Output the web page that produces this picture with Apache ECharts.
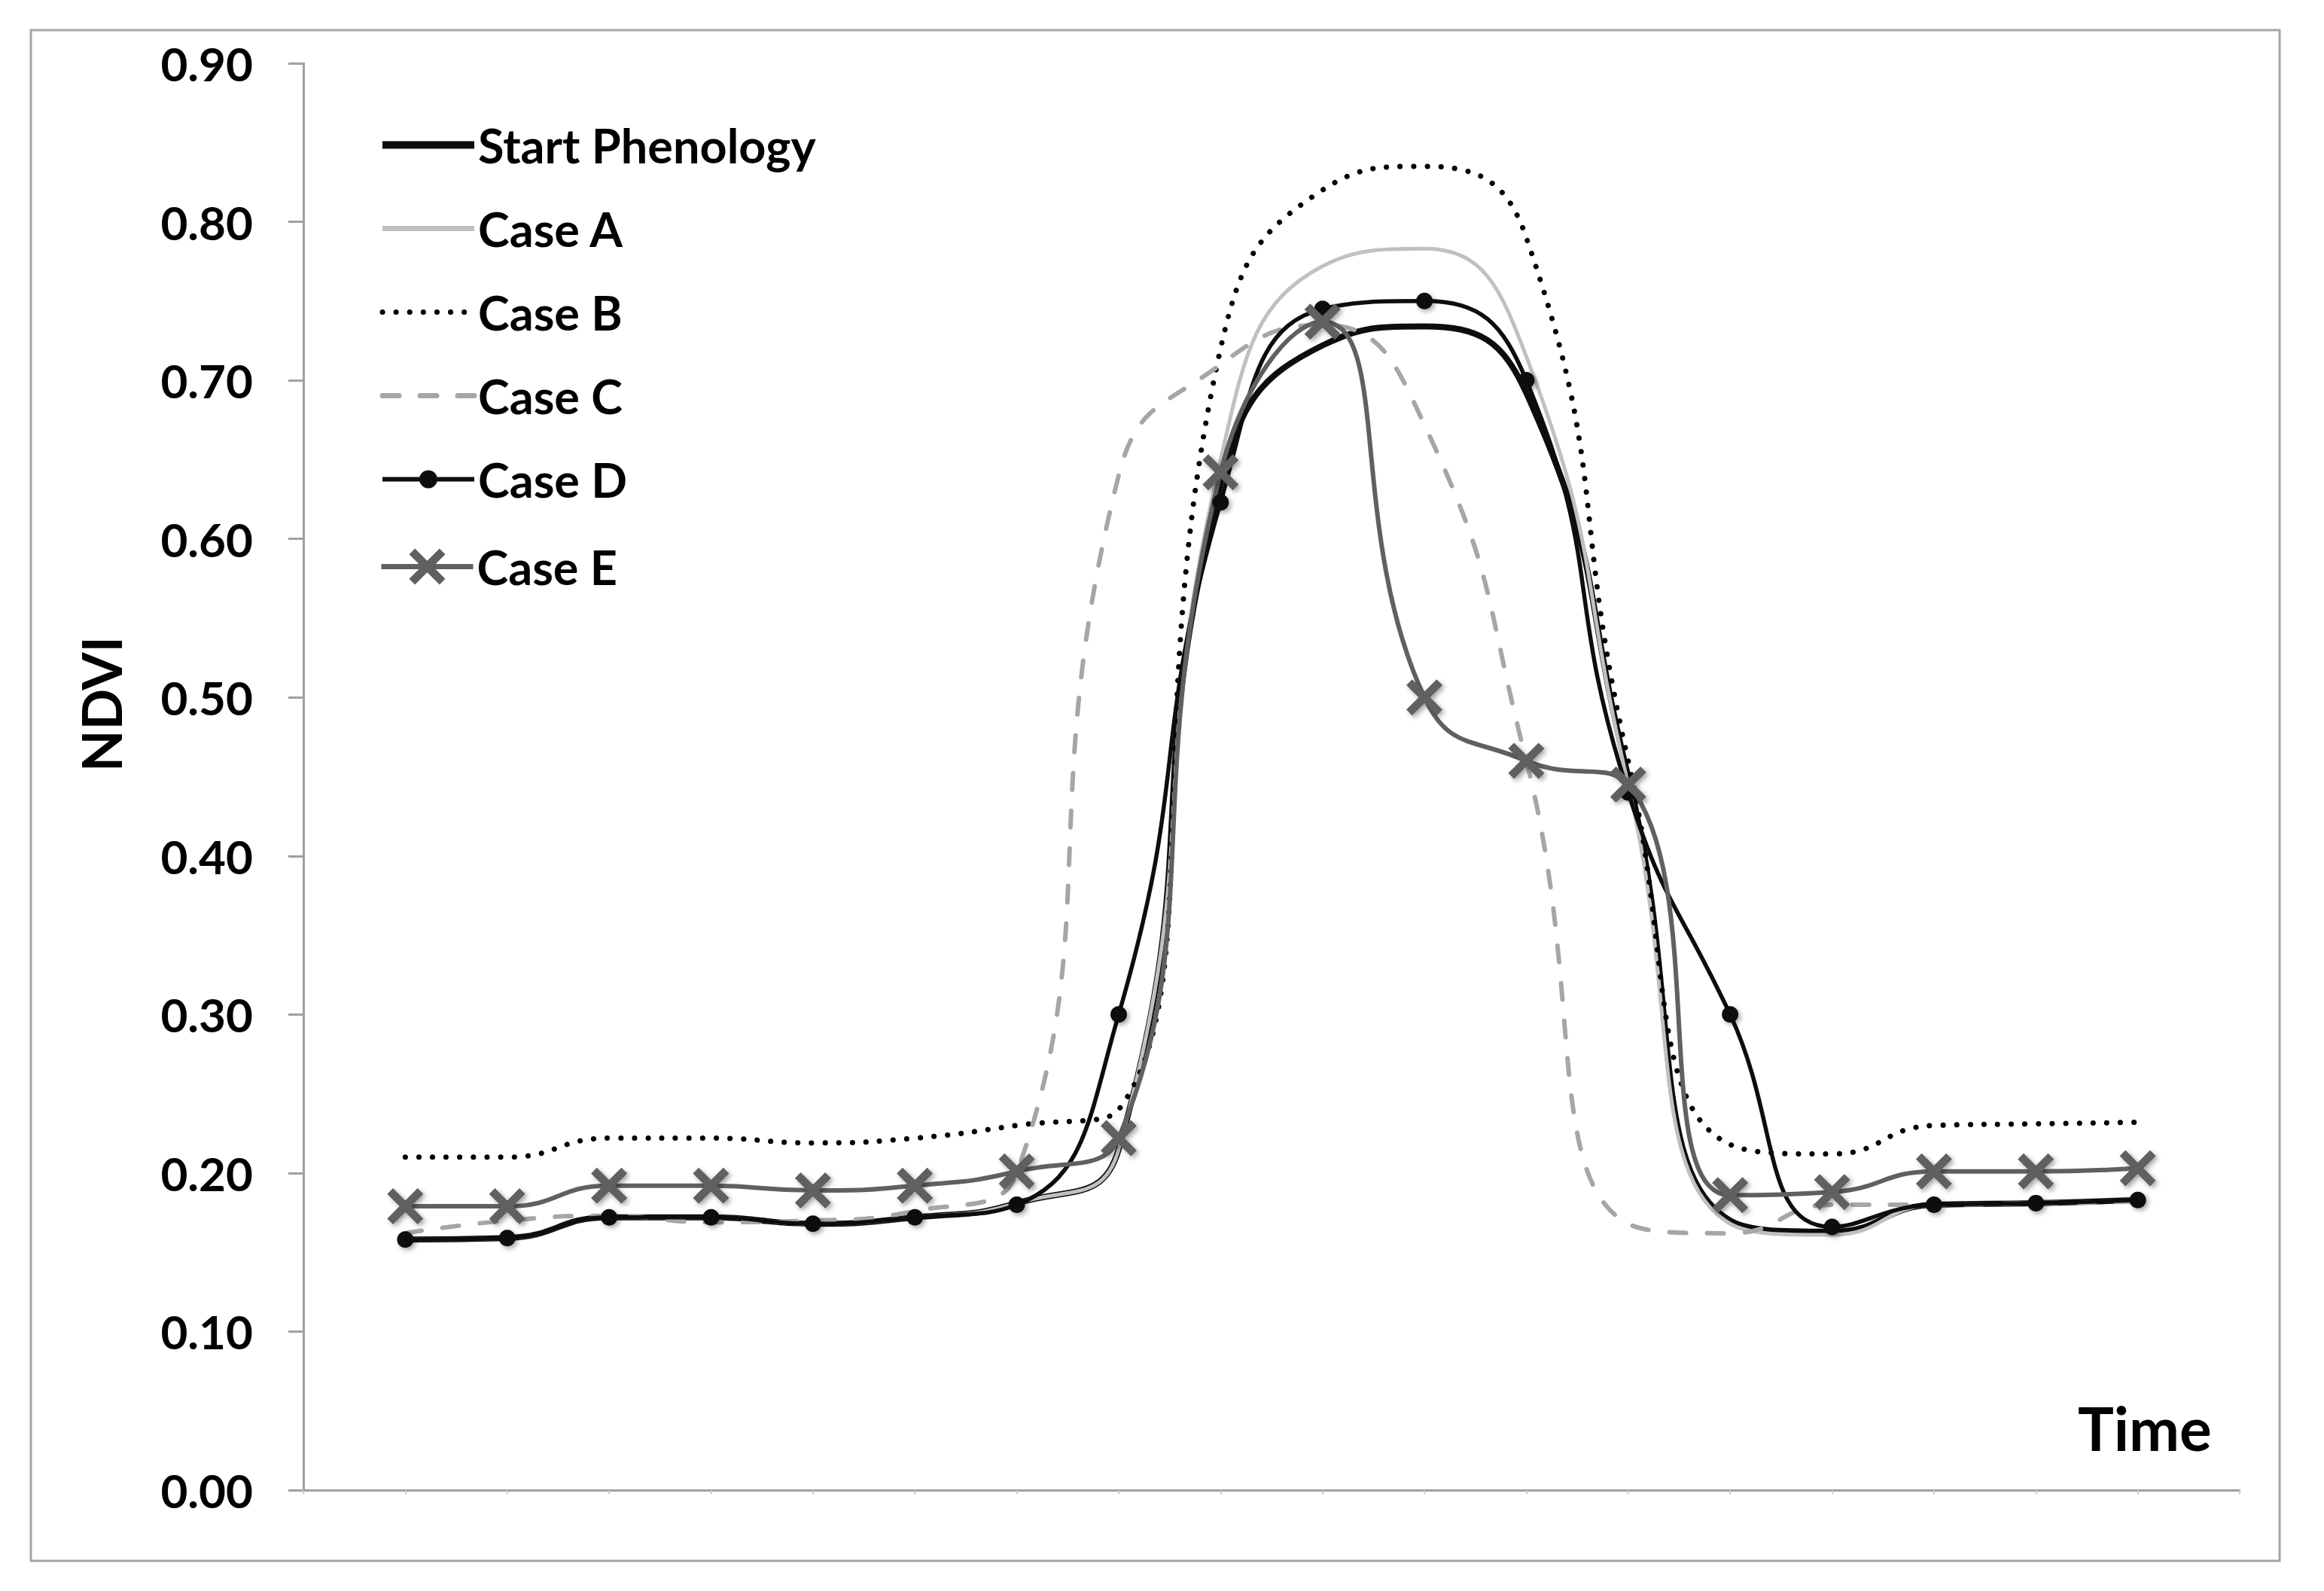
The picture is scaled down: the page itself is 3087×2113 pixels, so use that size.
<!DOCTYPE html>
<html>
<head>
<meta charset="utf-8">
<script src="https://cdn.jsdelivr.net/npm/echarts@6/dist/echarts.min.js"></script>
<style>
  html, body { margin: 0; padding: 0; background: #fff; }
  #chart { width: 3087px; height: 2113px; }
</style>
</head>
<body>
<div id="chart"></div>
<script>
// time steps 1..18 (x axis runs 0..19, no labels)
const timeSteps = [1, 2, 3, 4, 5, 6, 7, 8, 9, 10, 11, 12, 13, 14, 15, 16, 17, 18];

const startPhenology = [0.158, 0.159, 0.172, 0.172, 0.168, 0.172, 0.181, 0.215, 0.635, 0.722, 0.734, 0.692, 0.45, 0.17, 0.163, 0.18, 0.181, 0.183];
const caseA = [0.158, 0.159, 0.172, 0.172, 0.168, 0.172, 0.181, 0.215, 0.65, 0.772, 0.783, 0.715, 0.445, 0.168, 0.161, 0.18, 0.181, 0.183];
const caseB = [0.21, 0.21, 0.222, 0.222, 0.219, 0.222, 0.23, 0.24, 0.72, 0.82, 0.835, 0.79, 0.46, 0.218, 0.212, 0.23, 0.231, 0.232];
const caseC = [0.162, 0.17, 0.173, 0.169, 0.17, 0.176, 0.2, 0.64, 0.71, 0.735, 0.672, 0.46, 0.168, 0.162, 0.18, 0.18, 0.181, 0.182];
const caseD = [0.158, 0.159, 0.172, 0.172, 0.168, 0.172, 0.18, 0.30, 0.623, 0.745, 0.75, 0.70, 0.44, 0.30, 0.166, 0.18, 0.181, 0.183];
const caseE = [0.179, 0.179, 0.192, 0.192, 0.189, 0.192, 0.201, 0.222, 0.642, 0.737, 0.50, 0.46, 0.445, 0.186, 0.188, 0.201, 0.201, 0.203];

const FONT = 'Lato';
const SMOOTH = 0.5;
const xMark = 'path://M0,1.6L1.6,0L5,3.4L8.4,0L10,1.6L6.6,5L10,8.4L8.4,10L5,6.6L1.6,10L0,8.4L3.4,5Z';

function pairs(values) {
  return values.map((v, i) => [timeSteps[i], v]);
}

const chart = echarts.init(document.getElementById('chart'), null, { renderer: 'svg' });

const markShadow = {
  shadowColor: 'rgba(0,0,0,0.35)',
  shadowBlur: 6,
  shadowOffsetX: 3,
  shadowOffsetY: 3
};

const legendText = { fontFamily: FONT, fontWeight: 'bold', fontSize: 63, color: '#000' };

chart.setOption({
  animation: false,
  backgroundColor: '#fff',
  grid: { left: 403, right: 112, top: 84, bottom: 134 },
  legend: [
    {
      orient: 'vertical',
      left: 498,
      top: 156,
      itemWidth: 122,
      itemHeight: 30,
      itemGap: 48,
      selectedMode: false,
      textStyle: legendText,
      data: [
        { name: 'Start Phenology', itemStyle: { opacity: 0 }, lineStyle: { width: 10 } },
        { name: 'Case A', itemStyle: { opacity: 0 }, lineStyle: { width: 7 } },
        { name: 'Case B', itemStyle: { opacity: 0 }, lineStyle: { width: 7 } },
        { name: 'Case C', itemStyle: { opacity: 0 }, lineStyle: { width: 7 } },
        { name: 'Case D', lineStyle: { width: 6 } }
      ]
    },
    {
      orient: 'vertical',
      left: 498,
      top: 716,
      itemWidth: 122,
      itemHeight: 60,
      selectedMode: false,
      textStyle: legendText,
      data: [
        { name: 'Case E', lineStyle: { width: 7 } }
      ]
    }
  ],
  xAxis: {
    type: 'value',
    min: 0,
    max: 19,
    interval: 1,
    axisLabel: { show: false },
    splitLine: { show: false },
    axisLine: { lineStyle: { color: '#a0a0a0', width: 3 } },
    axisTick: { length: 5, lineStyle: { color: '#c8c8c8', width: 2 } }
  },
  yAxis: {
    type: 'value',
    min: 0,
    max: 0.9,
    interval: 0.1,
    splitLine: { show: false },
    axisLine: { show: true, lineStyle: { color: '#a0a0a0', width: 3 } },
    axisTick: { show: true, length: 20, lineStyle: { color: '#a0a0a0', width: 3 } },
    axisLabel: {
      margin: 67,
      fontFamily: FONT,
      fontWeight: 'bold',
      fontSize: 62,
      color: '#000',
      formatter: v => v.toFixed(2)
    }
  },
  series: [
    {
      name: 'Start Phenology',
      type: 'line',
      smooth: SMOOTH,
      symbol: 'none',
      color: '#0d0d0d',
      lineStyle: { color: '#0d0d0d', width: 8 },
      data: pairs(startPhenology)
    },
    {
      name: 'Case A',
      type: 'line',
      smooth: SMOOTH,
      symbol: 'none',
      color: '#c0c0c0',
      lineStyle: { color: '#c0c0c0', width: 5 },
      data: pairs(caseA)
    },
    {
      name: 'Case B',
      type: 'line',
      smooth: SMOOTH,
      symbol: 'none',
      color: '#000',
      lineStyle: { color: '#000', width: 7, type: [0.1, 18], cap: 'round' },
      data: pairs(caseB)
    },
    {
      name: 'Case C',
      type: 'line',
      smooth: SMOOTH,
      symbol: 'none',
      color: '#a6a6a6',
      lineStyle: { color: '#a6a6a6', width: 6, type: [22, 28], cap: 'round' },
      data: pairs(caseC)
    },
    {
      name: 'Case D',
      type: 'line',
      smooth: SMOOTH,
      symbol: 'circle',
      symbolSize: 22,
      color: '#0d0d0d',
      lineStyle: { color: '#0d0d0d', width: 5.5 },
      itemStyle: Object.assign({ color: '#0d0d0d' }, markShadow),
      data: pairs(caseD)
    },
    {
      name: 'Case E',
      type: 'line',
      smooth: SMOOTH,
      symbol: xMark,
      symbolSize: 48,
      color: '#606060',
      lineStyle: { color: '#606060', width: 6 },
      itemStyle: Object.assign({ color: '#606060' }, markShadow),
      data: pairs(caseE)
    }
  ],
  graphic: [
    {
      type: 'rect',
      shape: { x: 41, y: 40, width: 2987, height: 2033 },
      style: { fill: 'none', stroke: '#a6a6a6', lineWidth: 3 },
      silent: true
    },
    {
      type: 'text',
      x: 134,
      y: 935,
      rotation: Math.PI / 2,
      style: {
        text: 'NDVI',
        font: 'bold 72px ' + FONT,
        fill: '#000',
        textAlign: 'center',
        textVerticalAlign: 'middle'
      }
    },
    {
      type: 'text',
      x: 2760,
      y: 1896,
      style: {
        text: 'Time',
        font: 'bold 80px ' + FONT,
        fill: '#000',
        textAlign: 'left',
        textVerticalAlign: 'middle'
      }
    }
  ]
});
</script>
</body>
</html>
